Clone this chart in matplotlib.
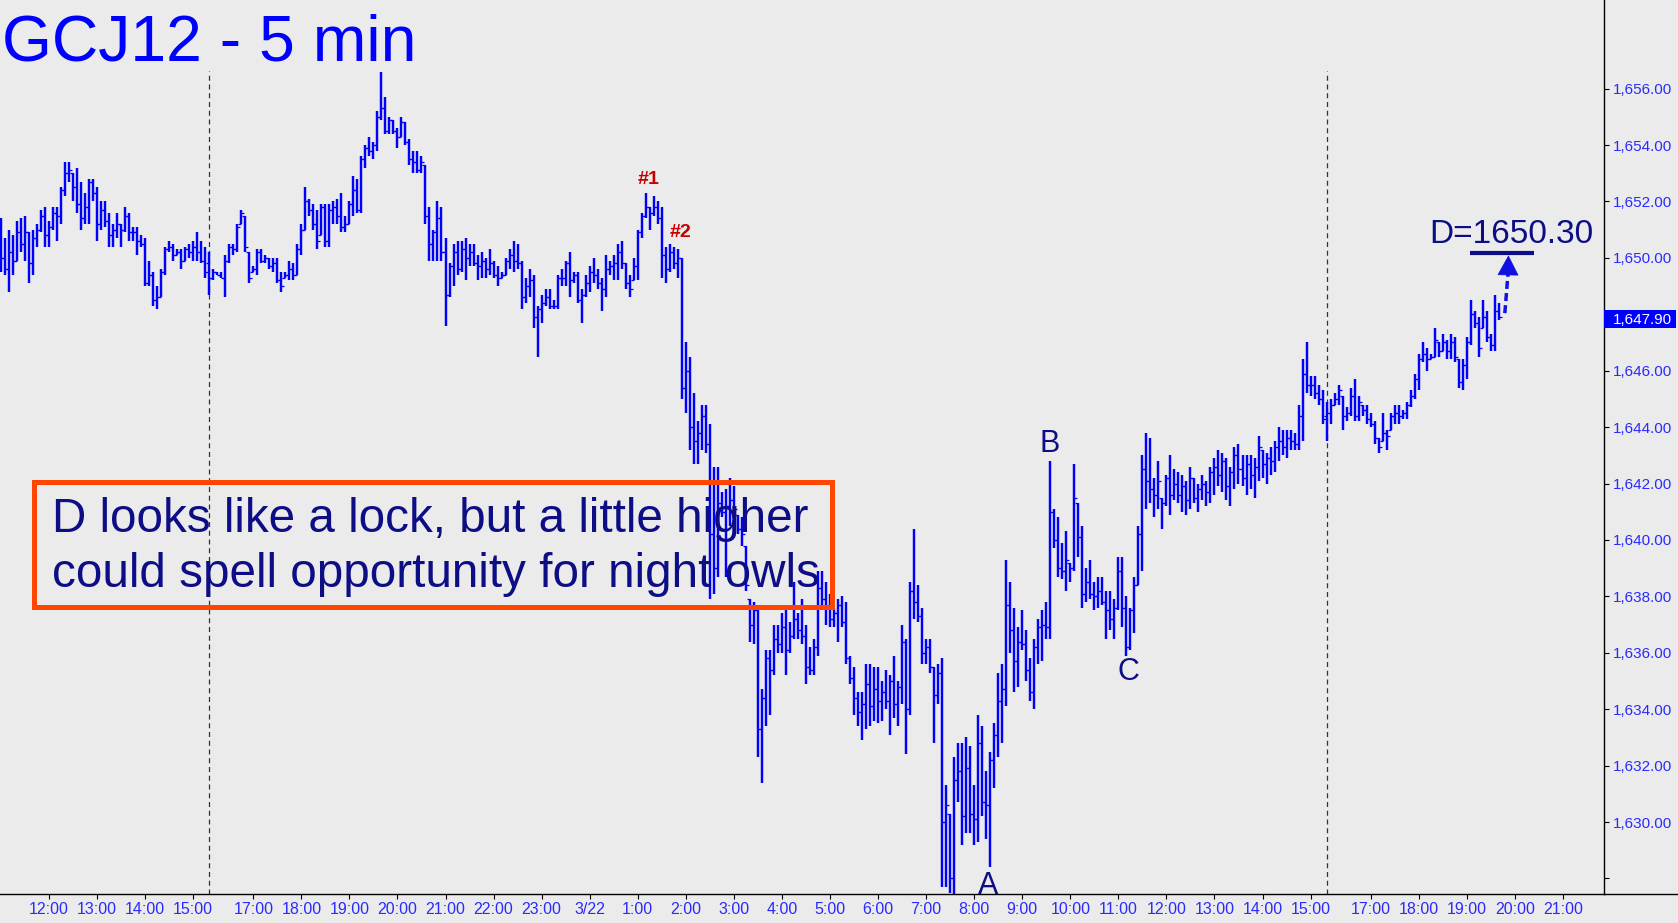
import numpy as np
import matplotlib
matplotlib.use("Agg")
import matplotlib.pyplot as plt
import matplotlib.transforms as mtransforms
from matplotlib.patches import Rectangle
from matplotlib.lines import Line2D

plt.rcParams['font.family'] = ['Liberation Sans', 'DejaVu Sans']

# 5 min bars (index 0 = 11:00 on 3/21)
highs = [
    1651.4, 1650.7, 1651.0, 1650.8, 1651.3, 1651.4, 1651.5, 1650.9, 1651.0, 1651.2,
    1651.7, 1651.8, 1651.3, 1651.8, 1651.8, 1652.5, 1653.4, 1653.4, 1653.0, 1653.2,
    1652.7, 1652.3, 1652.8, 1652.8, 1652.5, 1652.0, 1652.0, 1651.6, 1651.2, 1651.6,
    1651.2, 1651.8, 1651.6, 1651.1, 1651.1, 1650.8, 1650.7, 1649.9, 1649.5, 1649.0,
    1649.6, 1650.4, 1650.6, 1650.5, 1650.3, 1650.3, 1650.4, 1650.5, 1650.6, 1650.9,
    1650.6, 1650.4, 1650.2, 1649.6, 1649.5, 1649.5, 1650.1, 1650.5, 1650.5, 1651.2,
    1651.7, 1651.5, 1650.2, 1649.7, 1650.3, 1650.3, 1650.1, 1650.0, 1650.0, 1650.0,
    1649.5, 1649.5, 1649.9, 1649.8, 1650.5, 1651.2, 1652.5, 1652.1, 1651.9, 1651.7,
    1651.9, 1651.9, 1651.9, 1652.0, 1652.1, 1652.3, 1651.5, 1652.0, 1652.9, 1652.8,
    1653.6, 1654.0, 1654.3, 1654.1, 1655.2, 1656.6, 1655.7, 1655.0, 1654.9, 1654.6,
    1655.0, 1654.8, 1654.2, 1653.8, 1653.8, 1653.6, 1653.3, 1651.8, 1651.0, 1652.0,
    1651.8, 1650.7, 1649.8, 1650.5, 1650.6, 1650.6, 1650.7, 1650.5, 1650.5, 1650.1,
    1650.2, 1650.0, 1650.3, 1649.9, 1649.7, 1649.5, 1650.0, 1650.3, 1650.6, 1650.5,
    1649.9, 1649.3, 1649.6, 1649.4, 1648.3, 1648.7, 1648.9, 1648.9, 1648.5, 1649.4,
    1649.6, 1649.9, 1650.2, 1649.5, 1649.5, 1648.9, 1649.4, 1649.7, 1650.0, 1649.6,
    1649.3, 1650.1, 1649.9, 1650.1, 1650.5, 1650.6, 1649.8, 1649.4, 1650.0, 1651.0,
    1651.6, 1652.3, 1651.8, 1652.2, 1652.0, 1651.8, 1650.4, 1650.5, 1650.4, 1650.3,
    1650.0, 1647.0, 1646.5, 1645.2, 1644.2, 1644.8, 1644.8, 1644.1, 1642.6, 1642.6,
    1641.7, 1641.8, 1642.2, 1641.9, 1640.9, 1640.8, 1639.8, 1637.9, 1637.8, 1637.6,
    1634.7, 1636.1, 1636.1, 1637.0, 1637.0, 1637.4, 1637.6, 1637.1, 1638.5, 1637.4,
    1637.9, 1637.0, 1636.2, 1636.5, 1638.9, 1638.9, 1638.5, 1638.1, 1637.6, 1637.9,
    1638.0, 1637.8, 1635.9, 1635.5, 1634.6, 1634.6, 1635.6, 1635.6, 1635.5, 1635.5,
    1635.0, 1635.4, 1635.2, 1635.9, 1635.0, 1637.0, 1636.5, 1638.5, 1640.4, 1638.4,
    1637.6, 1636.5, 1636.5, 1635.5, 1635.6, 1635.8, 1631.3, 1630.3, 1632.3, 1632.8,
    1632.8, 1633.0, 1632.7, 1631.3, 1633.8, 1633.4, 1631.8, 1632.5, 1633.5, 1635.3,
    1635.6, 1639.3, 1638.5, 1637.6, 1636.9, 1637.5, 1636.8, 1635.8, 1636.5, 1637.2,
    1637.5, 1637.8, 1642.8, 1641.1, 1640.8, 1639.9, 1640.3, 1639.2, 1642.7, 1641.3,
    1640.5, 1639.0, 1639.3, 1638.5, 1638.7, 1638.7, 1638.2, 1638.2, 1637.9, 1639.4,
    1639.4, 1638.0, 1637.6, 1638.7, 1640.5, 1643.0, 1643.8, 1643.6, 1642.2, 1642.8,
    1641.5, 1642.3, 1643.0, 1642.5, 1642.4, 1642.3, 1642.1, 1642.6, 1642.2, 1642.0,
    1642.3, 1642.1, 1642.6, 1642.9, 1643.2, 1643.1, 1642.9, 1642.6, 1643.3, 1643.4,
    1643.0, 1643.0, 1643.0, 1642.9, 1643.7, 1643.2, 1643.1, 1643.3, 1643.5, 1644.0,
    1643.9, 1643.9, 1643.9, 1643.8, 1644.8, 1646.4, 1647.0, 1645.8, 1645.8, 1645.5,
    1645.3, 1644.9, 1645.0, 1645.2, 1645.5, 1645.1, 1644.7, 1645.4, 1645.7, 1645.1,
    1644.8, 1644.8, 1644.5, 1644.2, 1643.6, 1644.5, 1643.9, 1644.5, 1644.8, 1644.8,
    1644.6, 1644.9, 1645.3, 1645.9, 1646.6, 1647.0, 1646.8, 1646.6, 1647.5, 1647.0,
    1647.3, 1647.1, 1647.3, 1647.2, 1646.4, 1646.4, 1647.2, 1648.5, 1648.1, 1647.9,
    1648.5, 1648.1, 1647.3, 1648.7, 1648.4,
]
lows = [
    1649.5, 1649.4, 1648.8, 1649.4, 1649.9, 1650.2, 1649.9, 1649.1, 1649.4, 1650.4,
    1650.9, 1650.4, 1650.4, 1651.0, 1650.6, 1651.2, 1652.2, 1652.7, 1652.0, 1651.6,
    1651.0, 1651.2, 1651.2, 1652.0, 1650.6, 1651.0, 1651.1, 1650.4, 1650.4, 1650.7,
    1650.4, 1650.9, 1650.6, 1650.6, 1650.1, 1650.4, 1649.0, 1649.0, 1648.3, 1648.2,
    1648.6, 1649.4, 1650.2, 1649.9, 1650.1, 1649.6, 1649.9, 1650.0, 1649.9, 1649.9,
    1649.8, 1649.3, 1648.7, 1649.2, 1649.4, 1649.3, 1648.6, 1649.8, 1650.1, 1650.2,
    1651.2, 1650.2, 1649.1, 1649.5, 1649.4, 1649.8, 1649.8, 1649.6, 1649.5, 1649.1,
    1648.8, 1649.3, 1649.2, 1649.2, 1649.4, 1650.1, 1651.0, 1651.5, 1651.0, 1650.3,
    1650.8, 1650.4, 1650.4, 1651.2, 1651.2, 1650.9, 1650.9, 1651.2, 1651.5, 1651.6,
    1651.6, 1653.2, 1653.6, 1653.5, 1653.8, 1654.9, 1654.4, 1654.4, 1654.4, 1653.9,
    1654.3, 1654.0, 1653.3, 1653.0, 1653.0, 1653.0, 1651.2, 1649.9, 1649.9, 1649.9,
    1649.9, 1647.6, 1648.6, 1649.0, 1649.4, 1649.5, 1649.2, 1649.7, 1649.7, 1649.2,
    1649.3, 1649.3, 1649.4, 1649.3, 1649.0, 1649.3, 1649.4, 1649.6, 1649.5, 1649.6,
    1648.2, 1648.4, 1648.6, 1647.5, 1646.5, 1647.7, 1648.3, 1648.2, 1648.2, 1648.2,
    1649.0, 1649.0, 1648.6, 1649.1, 1648.4, 1647.7, 1648.6, 1648.8, 1649.1, 1648.9,
    1648.1, 1648.6, 1649.4, 1649.2, 1649.2, 1649.6, 1648.9, 1648.6, 1649.2, 1649.2,
    1650.7, 1651.4, 1651.0, 1651.5, 1651.2, 1649.3, 1649.1, 1649.5, 1649.6, 1649.3,
    1645.0, 1644.5, 1643.2, 1642.7, 1642.7, 1643.2, 1643.1, 1637.9, 1638.1, 1638.7,
    1640.8, 1638.7, 1640.5, 1640.8, 1640.2, 1639.8, 1638.2, 1636.4, 1636.3, 1632.3,
    1631.4, 1633.4, 1633.8, 1635.2, 1636.0, 1636.0, 1635.2, 1636.0, 1636.5, 1636.5,
    1636.3, 1634.9, 1635.2, 1635.2, 1635.9, 1637.6, 1637.0, 1636.9, 1636.9, 1636.4,
    1636.9, 1635.6, 1634.9, 1633.8, 1633.4, 1632.9, 1633.3, 1633.4, 1633.6, 1633.5,
    1633.6, 1634.0, 1633.1, 1633.7, 1633.4, 1634.2, 1632.4, 1633.8, 1637.2, 1637.1,
    1635.6, 1635.6, 1635.3, 1632.8, 1634.2, 1627.7, 1627.7, 1627.5, 1627.4, 1630.7,
    1629.2, 1629.6, 1629.6, 1629.2, 1629.3, 1630.2, 1629.4, 1628.4, 1631.2, 1632.3,
    1632.8, 1634.1, 1636.0, 1634.6, 1634.8, 1636.1, 1635.0, 1634.3, 1634.0, 1635.6,
    1635.7, 1636.5, 1636.5, 1639.7, 1638.7, 1638.6, 1638.2, 1638.5, 1638.9, 1639.4,
    1637.6, 1637.8, 1637.9, 1637.5, 1637.6, 1637.7, 1636.5, 1636.8, 1636.5, 1637.5,
    1636.9, 1635.9, 1636.1, 1636.7, 1638.4, 1638.9, 1641.1, 1641.3, 1640.8, 1641.1,
    1640.4, 1641.2, 1640.9, 1641.4, 1641.3, 1641.0, 1640.9, 1641.1, 1641.3, 1641.0,
    1641.4, 1641.2, 1641.3, 1641.6, 1641.9, 1641.7, 1641.4, 1641.2, 1641.8, 1642.0,
    1641.9, 1641.6, 1641.8, 1641.5, 1642.1, 1642.2, 1642.0, 1642.3, 1642.4, 1642.8,
    1643.0, 1642.9, 1643.2, 1643.2, 1643.2, 1643.5, 1645.2, 1645.1, 1645.0, 1644.8,
    1644.1, 1643.5, 1644.1, 1644.8, 1644.8, 1643.9, 1644.2, 1644.4, 1644.2, 1644.2,
    1644.4, 1644.1, 1644.0, 1643.4, 1643.1, 1643.5, 1643.2, 1643.9, 1644.1, 1644.1,
    1644.3, 1644.3, 1644.7, 1645.0, 1645.3, 1646.3, 1646.0, 1646.4, 1646.5, 1646.5,
    1646.7, 1646.4, 1646.4, 1646.3, 1645.4, 1645.3, 1645.7, 1646.9, 1647.5, 1646.5,
    1647.5, 1647.0, 1646.7, 1646.7, 1647.8,
]
opens = [
    1650.5, 1650.0, 1649.6, 1650.2, 1649.9, 1650.9, 1650.5, 1650.9, 1649.8, 1650.7,
    1651.0, 1651.5, 1650.8, 1651.1, 1651.6, 1651.5, 1652.4, 1653.0, 1653.0, 1652.5,
    1651.9, 1651.4, 1651.8, 1652.7, 1652.3, 1651.2, 1651.7, 1651.3, 1650.8, 1651.0,
    1651.2, 1651.0, 1651.5, 1650.9, 1650.9, 1650.6, 1650.5, 1649.1, 1649.4, 1648.5,
    1648.6, 1649.5, 1650.3, 1650.4, 1650.1, 1650.2, 1649.9, 1650.3, 1650.2, 1650.4,
    1650.2, 1649.9, 1649.8, 1649.3, 1649.5, 1649.4, 1649.3, 1649.9, 1650.4, 1650.3,
    1651.2, 1651.5, 1650.2, 1649.5, 1649.6, 1650.2, 1649.9, 1650.0, 1649.7, 1649.8,
    1649.2, 1649.3, 1649.4, 1649.6, 1649.4, 1650.3, 1651.0, 1652.0, 1651.7, 1651.2,
    1650.8, 1651.8, 1650.6, 1651.7, 1651.8, 1651.5, 1651.1, 1651.2, 1651.9, 1652.4,
    1651.7, 1653.5, 1653.9, 1653.8, 1654.0, 1655.0, 1655.3, 1654.5, 1654.9, 1654.5,
    1654.3, 1654.8, 1654.1, 1653.5, 1653.4, 1653.1, 1653.3, 1651.5, 1650.5, 1650.9,
    1651.4, 1650.2, 1648.7, 1649.7, 1650.2, 1649.6, 1650.3, 1650.0, 1650.2, 1649.8,
    1649.7, 1649.9, 1649.6, 1649.8, 1649.4, 1649.3, 1649.4, 1649.9, 1650.1, 1649.9,
    1649.8, 1648.6, 1649.0, 1649.2, 1647.9, 1648.2, 1648.4, 1648.6, 1648.3, 1648.3,
    1649.3, 1649.3, 1649.8, 1649.2, 1649.4, 1648.5, 1648.7, 1649.1, 1649.5, 1649.4,
    1649.1, 1648.9, 1649.6, 1649.7, 1649.8, 1650.2, 1649.8, 1649.1, 1649.2, 1649.7,
    1650.9, 1651.5, 1651.8, 1651.6, 1651.8, 1651.4, 1650.1, 1649.6, 1650.2, 1649.8,
    1650.0, 1645.4, 1646.0, 1644.0, 1643.5, 1643.8, 1644.4, 1643.4, 1640.2, 1639.0,
    1641.3, 1641.0, 1641.2, 1641.4, 1640.9, 1640.4, 1639.8, 1637.9, 1637.0, 1637.5,
    1633.3, 1634.4, 1635.8, 1635.4, 1636.5, 1636.3, 1636.9, 1636.1, 1636.6, 1637.2,
    1636.8, 1636.6, 1635.5, 1635.4, 1636.2, 1638.3, 1637.9, 1637.6, 1637.2, 1637.4,
    1637.7, 1637.1, 1635.8, 1635.1, 1634.4, 1633.9, 1634.2, 1634.9, 1634.1, 1634.7,
    1634.3, 1634.6, 1634.3, 1635.0, 1634.2, 1634.8, 1636.4, 1634.0, 1638.2, 1637.8,
    1637.3, 1636.0, 1636.2, 1635.5, 1634.5, 1635.3, 1630.0, 1630.3, 1628.0, 1631.5,
    1631.8, 1630.2, 1631.9, 1630.3, 1630.1, 1632.8, 1630.7, 1630.6, 1632.2, 1633.1,
    1634.3, 1634.7, 1637.7, 1636.8, 1635.7, 1636.4, 1636.3, 1635.4, 1634.6, 1636.2,
    1636.9, 1637.0, 1636.9, 1641.0, 1640.0, 1639.0, 1638.9, 1639.2, 1639.0, 1641.3,
    1640.1, 1638.1, 1638.5, 1638.1, 1638.0, 1638.2, 1637.8, 1637.5, 1637.2, 1637.6,
    1638.9, 1637.6, 1636.2, 1637.5, 1638.4, 1640.2, 1642.5, 1642.1, 1641.8, 1641.6,
    1641.5, 1641.3, 1642.2, 1641.6, 1642.0, 1641.6, 1641.9, 1641.4, 1642.2, 1641.5,
    1641.8, 1642.0, 1641.7, 1642.4, 1642.6, 1642.3, 1642.8, 1641.9, 1642.4, 1643.0,
    1642.5, 1642.2, 1642.7, 1642.3, 1642.6, 1643.2, 1642.7, 1642.9, 1642.8, 1643.3,
    1643.5, 1643.3, 1643.6, 1643.5, 1643.4, 1644.4, 1645.9, 1645.5, 1645.5, 1645.2,
    1645.0, 1644.4, 1644.5, 1644.8, 1645.0, 1645.1, 1644.4, 1644.5, 1645.1, 1644.4,
    1644.8, 1644.6, 1644.3, 1644.1, 1643.6, 1643.5, 1643.8, 1643.9, 1644.4, 1644.5,
    1644.4, 1644.5, 1644.8, 1645.1, 1645.7, 1646.4, 1646.6, 1646.4, 1646.5, 1647.0,
    1646.7, 1647.0, 1646.7, 1647.0, 1646.4, 1645.6, 1646.2, 1647.0, 1648.0, 1647.7,
    1647.5, 1647.9, 1647.2, 1646.9, 1648.1,
]
closes = [
    1650.0, 1649.6, 1650.2, 1649.9, 1650.9, 1650.5, 1650.9, 1649.8, 1650.7, 1651.0,
    1651.5, 1650.8, 1651.1, 1651.6, 1651.5, 1652.4, 1653.0, 1653.1, 1652.5, 1651.9,
    1651.4, 1651.8, 1652.7, 1652.3, 1651.2, 1651.7, 1651.3, 1650.8, 1651.0, 1651.2,
    1651.0, 1651.5, 1650.9, 1650.9, 1650.6, 1650.5, 1649.1, 1649.4, 1648.5, 1648.6,
    1649.5, 1650.3, 1650.4, 1650.1, 1650.2, 1649.9, 1650.3, 1650.2, 1650.4, 1650.2,
    1649.9, 1649.5, 1649.3, 1649.5, 1649.4, 1649.3, 1649.9, 1650.4, 1650.3, 1651.1,
    1651.6, 1650.4, 1649.3, 1649.6, 1650.2, 1649.9, 1650.0, 1649.7, 1649.8, 1649.2,
    1649.0, 1649.4, 1649.6, 1649.4, 1650.3, 1651.0, 1652.0, 1651.7, 1651.2, 1650.6,
    1651.8, 1650.6, 1651.7, 1651.8, 1651.5, 1651.1, 1651.2, 1651.9, 1652.4, 1651.7,
    1653.5, 1653.9, 1653.8, 1654.0, 1655.0, 1655.3, 1654.5, 1654.9, 1654.5, 1654.3,
    1654.8, 1654.1, 1653.5, 1653.4, 1653.1, 1653.4, 1651.5, 1650.5, 1650.9, 1651.4,
    1650.2, 1648.7, 1649.7, 1650.2, 1649.6, 1650.3, 1650.0, 1650.2, 1649.8, 1649.7,
    1649.9, 1649.6, 1649.8, 1649.4, 1649.3, 1649.4, 1649.9, 1650.1, 1649.9, 1649.8,
    1648.6, 1649.0, 1649.2, 1647.9, 1648.2, 1648.4, 1648.6, 1648.3, 1648.3, 1649.3,
    1649.3, 1649.8, 1649.2, 1649.4, 1648.5, 1648.7, 1649.1, 1649.5, 1649.4, 1649.1,
    1648.9, 1649.6, 1649.7, 1649.8, 1650.2, 1649.8, 1649.1, 1648.9, 1649.7, 1650.9,
    1651.5, 1651.8, 1651.6, 1651.8, 1651.4, 1650.1, 1649.6, 1650.2, 1649.8, 1650.0,
    1645.4, 1646.0, 1644.0, 1643.5, 1643.8, 1644.4, 1643.4, 1640.2, 1639.0, 1641.3,
    1641.0, 1641.2, 1641.4, 1641.1, 1640.4, 1640.2, 1638.4, 1637.0, 1637.5, 1633.3,
    1634.4, 1635.8, 1635.4, 1636.5, 1636.3, 1636.9, 1636.1, 1636.6, 1637.2, 1636.8,
    1636.6, 1635.5, 1635.4, 1636.2, 1638.3, 1637.9, 1637.6, 1637.2, 1637.4, 1637.7,
    1637.1, 1635.8, 1635.1, 1634.4, 1633.9, 1634.2, 1634.9, 1634.1, 1634.7, 1634.3,
    1634.6, 1634.3, 1635.0, 1634.2, 1634.8, 1636.4, 1634.0, 1638.2, 1637.8, 1637.3,
    1636.0, 1636.2, 1635.5, 1634.5, 1635.3, 1630.0, 1630.6, 1628.0, 1631.5, 1631.8,
    1630.2, 1631.9, 1630.3, 1630.1, 1632.8, 1630.7, 1630.6, 1632.2, 1633.1, 1634.3,
    1634.7, 1637.7, 1636.8, 1635.7, 1636.4, 1636.3, 1635.4, 1634.6, 1636.2, 1636.9,
    1637.0, 1636.9, 1641.0, 1640.0, 1639.0, 1638.9, 1639.3, 1639.0, 1641.5, 1640.1,
    1638.1, 1638.5, 1638.1, 1638.0, 1638.2, 1637.8, 1637.5, 1637.2, 1637.6, 1638.9,
    1637.6, 1636.2, 1637.5, 1638.4, 1640.2, 1642.5, 1642.1, 1641.8, 1641.6, 1642.1,
    1641.3, 1642.2, 1641.6, 1642.0, 1641.6, 1641.9, 1641.4, 1642.2, 1641.5, 1641.8,
    1642.0, 1641.7, 1642.4, 1642.6, 1642.3, 1642.8, 1641.9, 1642.4, 1643.0, 1642.5,
    1642.2, 1642.7, 1642.3, 1642.6, 1643.3, 1642.7, 1642.9, 1642.8, 1643.3, 1643.5,
    1643.3, 1643.6, 1643.5, 1643.4, 1644.4, 1645.9, 1645.5, 1645.5, 1645.2, 1645.0,
    1644.3, 1644.5, 1644.8, 1645.0, 1645.3, 1644.4, 1644.5, 1645.1, 1644.4, 1644.9,
    1644.6, 1644.3, 1644.1, 1643.6, 1643.3, 1643.8, 1643.7, 1644.4, 1644.5, 1644.4,
    1644.5, 1644.8, 1645.1, 1645.7, 1646.4, 1646.6, 1646.4, 1646.5, 1647.1, 1646.7,
    1647.0, 1646.7, 1647.0, 1646.5, 1645.6, 1646.2, 1647.0, 1648.0, 1647.7, 1646.8,
    1647.9, 1647.2, 1646.9, 1648.1, 1647.9,
]

tick_pos = [12, 24, 36, 48, 63, 75, 87, 99, 111, 123, 135, 147, 159, 171, 183, 195,
            207, 219, 231, 243, 255, 267, 279, 291, 303, 315, 327, 342, 354, 366, 378, 390]
tick_lab = ['12:00', '13:00', '14:00', '15:00', '17:00', '18:00', '19:00', '20:00',
            '21:00', '22:00', '23:00', '3/22', '1:00', '2:00', '3:00', '4:00', '5:00',
            '6:00', '7:00', '8:00', '9:00', '10:00', '11:00', '12:00', '13:00', '14:00',
            '15:00', '17:00', '18:00', '19:00', '20:00', '21:00']
session_starts = [52, 331]
price_ticks = list(range(1628, 1657, 2))
d_target = 1650.30

bg = '#EBEBEB'
navy = '#0d0d85'
fig = plt.figure(figsize=(16.78, 9.23), dpi=100, facecolor=bg)
ax = fig.add_axes([0, 29 / 923, 1604 / 1678, 894 / 923])
ax.set_facecolor(bg)

x = np.arange(len(highs))
ax.vlines(x, lows, highs, color='#0000ff', lw=1.75, zorder=3)
ax.hlines(opens, x - 0.75, x, color='#0000ff', lw=0.9, zorder=3)
ax.hlines(closes, x, x + 0.75, color='#0000ff', lw=0.9, zorder=3)

ax.set_xlim(-0.235, 400.26)
ax.set_ylim(1627.45, 1659.14)

# session separators
ax.vlines(session_starts, 1627.45, 1656.62, colors='#333333', lw=0.9,
          linestyles=(0, (4, 3)), zorder=2)

# axes look
for s in ['top', 'left']:
    ax.spines[s].set_visible(False)
ax.spines['right'].set_linewidth(1.0)
ax.spines['bottom'].set_linewidth(1.0)
fig.add_artist(Line2D([1604 / 1678, 1], [29 / 923, 29 / 923], color='k', lw=1.0))

ax.yaxis.tick_right()
ax.set_yticks(price_ticks)
ax.set_yticklabels(['' if p == 1628 else f'{p:,.2f}' for p in price_ticks])
ax.tick_params(axis='y', direction='out', length=3.6, width=0.8,
               labelcolor='#2a2aff', labelsize=11, pad=3)
ax.set_xticks(tick_pos)
ax.set_xticklabels(tick_lab)
ax.tick_params(axis='x', direction='out', length=3.6, width=0.8,
               labelcolor='#2a2aff', labelsize=11.5, pad=2)

# title
ax.text(2 / 1604, 0.9321, 'GCJ12 - 5 min', transform=ax.transAxes, fontsize=46.3,
        color='#0000ff', va='baseline', ha='left')

# labels on the chart
ax.text(161.8, 1652.79, '#1', ha='center', va='center', fontsize=14,
        fontweight='bold', color='#c80000', zorder=5)
ax.text(169.75, 1650.91, '#2', ha='center', va='center', fontsize=14,
        fontweight='bold', color='#c80000', zorder=5)
ax.text(246.5, 1627.73, 'A', ha='center', va='center', fontsize=22, color=navy,
        zorder=5, clip_on=False)
ax.text(261.8, 1643.39, 'B', ha='center', va='center', fontsize=22, color=navy, zorder=5)
ax.text(281.5, 1635.32, 'C', ha='center', va='center', fontsize=22, color=navy, zorder=5)

ax.text(377.1, 1650.84, f'D={d_target:.2f}', ha='center', va='center', fontsize=24,
        color=navy, zorder=5)
ax.plot([366.8, 382.8], [1650.17, 1650.17], color=navy, lw=3, solid_capstyle='butt', zorder=5)
ax.plot([375.5, 376.3], [1648.04, 1649.45], color='#1010e0', lw=2.5,
        ls=(0, (2.3, 1.2)), zorder=5)
ax.annotate('', xy=(376.4, 1650.09), xytext=(376.3, 1649.42),
            arrowprops=dict(arrowstyle='-|>,head_length=0.68,head_width=0.36',
                            color='#1010e0', lw=0.5, mutation_scale=20,
                            shrinkA=0, shrinkB=0), zorder=5)

# comment box
ax.add_patch(Rectangle((0.0212, 0.3205), 0.4978, 0.1398, transform=ax.transAxes,
                       fill=False, ec='#ff4500', lw=3.6, zorder=6))
ax.text(0.0324, 0.4053, 'D looks like a lock, but a little higher', transform=ax.transAxes,
        fontsize=34.3, color=navy, va='baseline', ha='left', zorder=7)
ax.text(0.0324, 0.3437, 'could spell opportunity for night owls', transform=ax.transAxes,
        fontsize=34.3, color=navy, va='baseline', ha='left', zorder=7)

# last price tag on the price axis (covers most of the 1,648.00 label, as in the source)
trans = mtransforms.blended_transform_factory(ax.transAxes, ax.transData)
ax.add_patch(Rectangle((1.0, 1647.51), 72 / 1604, 0.64, transform=trans, clip_on=False,
                       fc='#0000ff', ec='none', zorder=10))
ax.text(1.0 + 9 / 1604, 1647.81, f'{closes[-1]:,.2f}', transform=trans, va='center',
        ha='left', color='white', fontsize=11, zorder=11, clip_on=False)

fig.savefig('out.png', dpi=100, facecolor=bg)
